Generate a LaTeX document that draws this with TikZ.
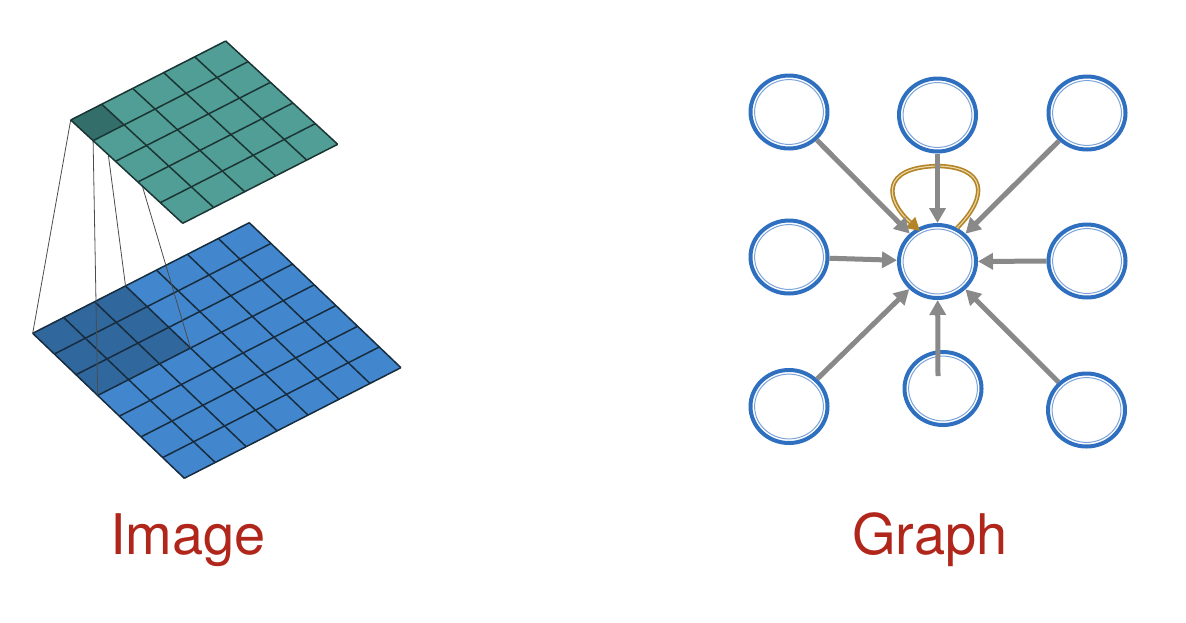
\documentclass[tikz,border=0pt]{standalone}
\usepackage{fontspec}
\newfontfamily\labelfont{TeX Gyre Heros}
\usetikzlibrary{arrows.meta,shapes.geometric}
\definecolor{tealA}{HTML}{509E96}
\definecolor{tealB}{HTML}{336E6A}
\definecolor{tealLine}{HTML}{1B3534}
\definecolor{blueA}{HTML}{4287CE}
\definecolor{blueB}{HTML}{30679C}
\definecolor{blueLine}{HTML}{172C3E}
\definecolor{nodeBlue}{HTML}{2F6FBF}
\definecolor{innerBlue}{HTML}{7DA4D8}
\definecolor{arrowGray}{HTML}{898989}
\definecolor{loopGold}{HTML}{B38428}
\definecolor{loopLight}{HTML}{EAD7A6}
\definecolor{labelRed}{HTML}{B0261B}
\begin{document}
\begin{tikzpicture}[x=1pt,y=-1pt,
  gridT/.style={draw=tealLine,line width=1.5pt},
  gridB/.style={draw=blueLine,line width=1.5pt},
  proj/.style={draw=black!70,line width=0.8pt},
  gnode/.style={ellipse,draw=nodeBlue,line width=4pt,minimum width=77pt,minimum height=73pt,inner sep=0pt},
  innerring/.style={draw=innerBlue,line width=1pt},
  garrow/.style={draw=arrowGray,line width=5pt,-{Triangle[length=15pt,width=16pt]}},
  lbl/.style={text=labelRed,font=\labelfont\fontsize{56}{62}\selectfont,anchor=base,inner sep=0pt}]
\useasboundingbox (0,0) rectangle (1186,622);

% ---------- bottom grid ----------
\begin{scope}[shift={(32.7pt,-333.3pt)},x={(30.94pt,15.8pt)},y={(21.66pt,-20.71pt)}]
  \fill[blueA] (0,0)--(7,0)--(7,7)--(0,7)--cycle;
  \fill[blueB] (0,0)--(3,0)--(3,3)--(0,3)--cycle;
  \foreach \i in {0,...,7}{
    \draw[gridB] (\i,0)--(\i,7);
    \draw[gridB] (0,\i)--(7,\i);
  }
  \coordinate (bL) at (0,0);
  \coordinate (bU) at (3,0);
  \coordinate (bV) at (0,3);
  \coordinate (bF) at (3,3);
\end{scope}

% ---------- top grid ----------
\begin{scope}[shift={(70.7pt,-120pt)},x={(31pt,15.8pt)},y={(22.4pt,-20.66pt)}]
  \coordinate (tL) at (0,0);
  \coordinate (tU) at (1,0);
  \coordinate (tV) at (0,1);
  \coordinate (tF) at (1,1);
  \draw[proj] (tL)--(bL);
  \draw[proj] (tU)--(bU);
  \draw[proj] (tV)--(bV);
  \draw[proj] (tF)--(bF);
  \fill[tealA] (0,0)--(5,0)--(5,5)--(0,5)--cycle;
  \fill[tealB] (0,0)--(1,0)--(1,1)--(0,1)--cycle;
  \foreach \i in {0,...,5}{
    \draw[gridT] (\i,0)--(\i,5);
    \draw[gridT] (0,\i)--(5,\i);
  }
\end{scope}

% ---------- graph ----------
\node[gnode] (tl) at (789,112) {};
\node[gnode] (tm) at (937.5,115) {};
\node[gnode] (tr) at (1087,113) {};
\node[gnode] (ml) at (789,257) {};
\node[gnode] (c)  at (937.5,261.5) {};
\node[gnode] (mr) at (1087,261) {};
\node[gnode] (bl) at (789,406.5) {};
\node[gnode] (bm) at (943,388.5) {};
\node[gnode] (br) at (1086.5,410) {};
\foreach \n in {tl,tm,tr,ml,c,mr,bl,bm,br}
  \draw[innerring] (\n.center) ellipse [x radius=34.4pt, y radius=32.4pt];

% self loop
\coordinate (loopS) at (957,228);
\coordinate (loopT) at (938,166);
\coordinate (loopE) at (920,231);
\draw[draw=loopGold,line width=4.4pt,-{Triangle[length=13pt,width=14pt]}]
  (loopS) .. controls (990,195) and (985,167) .. (loopT)
          .. controls (880,167) and (885,200) .. (loopE);
\draw[draw=loopLight,line width=1.1pt,shorten >=13pt]
  (loopS) .. controls (990,195) and (985,167) .. (loopT)
          .. controls (880,167) and (885,200) .. (loopE);

\coordinate (bmS) at (938,376);
\draw[garrow] (tl) -- (c);
\draw[garrow] (tm) -- (c);
\draw[garrow] (tr) -- (c);
\draw[garrow] (ml) -- (c);
\draw[garrow] (mr) -- (c);
\draw[garrow] (bl) -- (c);
\draw[garrow] (bmS) -- (c);
\draw[garrow] (br) -- (c);

% ---------- labels ----------
\node[lbl] (imgLabel) at (188,554) {Image};
\node[lbl] (graphLabel) at (930,554) {Graph};
\end{tikzpicture}
\end{document}
